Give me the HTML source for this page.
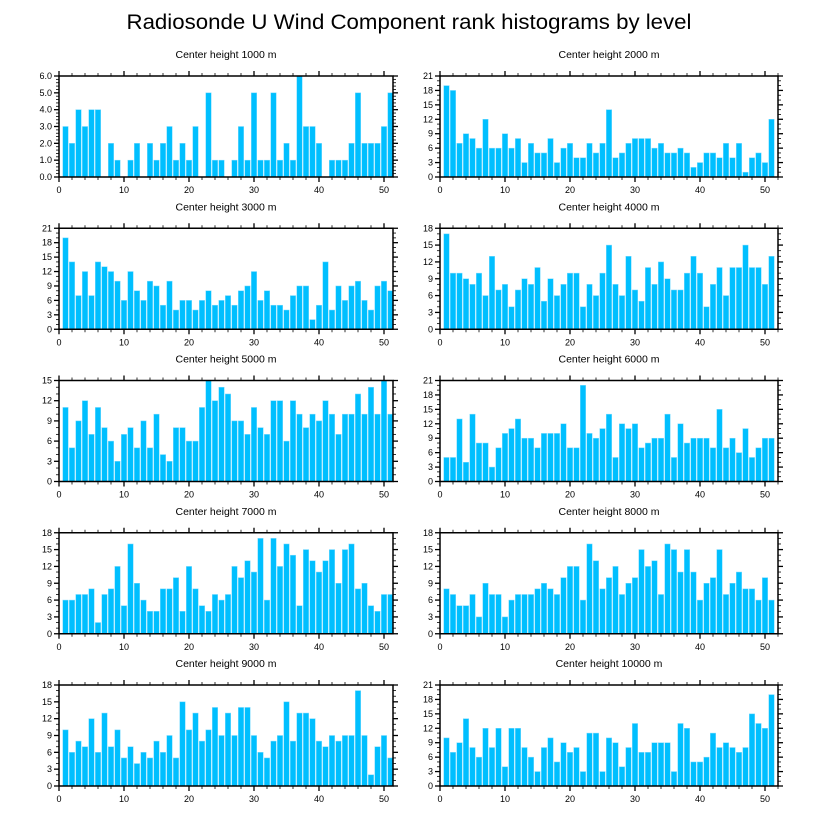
<!DOCTYPE html>
<html>
<head>
<meta charset="utf-8">
<style>
  html,body{margin:0;padding:0;background:#fff;}
  svg{display:block;font-family:"Liberation Sans",sans-serif;}
</style>
</head>
<body>
<svg id="chart" width="818" height="824" viewBox="0 0 818 824" xmlns="http://www.w3.org/2000/svg">
  <text x="409" y="29" text-anchor="middle" font-size="21" textLength="565" lengthAdjust="spacingAndGlyphs" fill="#000">Radiosonde U Wind Component rank histograms by level</text>
</svg>
<script>
const panelTitles = ["Center height 1000 m","Center height 2000 m","Center height 3000 m","Center height 4000 m","Center height 5000 m","Center height 6000 m","Center height 7000 m","Center height 8000 m","Center height 9000 m","Center height 10000 m"];
const yMaxes = [6,21,21,18,15,21,18,18,18,21];
const yMajorSteps = [1,3,3,3,3,3,3,3,3,3];
const xTickLabels = [0,10,20,30,40,50];
const h1000 = [3,2,4,3,4,4,0,2,1,0,1,2,0,2,1,2,3,1,2,1,3,0,5,1,1,0,1,3,1,5,1,1,5,1,2,1,6,3,3,2,0,1,1,1,2,5,2,2,2,3,5];
const h2000 = [19,18,7,9,8,6,12,6,6,9,6,8,3,7,5,5,8,3,6,7,4,4,7,5,7,14,4,5,7,8,8,8,6,7,5,5,6,5,2,3,5,5,4,7,4,7,1,4,5,3,12];
const h3000 = [19,14,7,12,7,14,13,12,10,6,12,8,6,10,9,5,10,4,6,6,4,6,8,5,6,7,5,8,9,12,6,8,5,5,4,7,9,9,2,5,14,4,9,6,9,10,6,4,9,10,8];
const h4000 = [17,10,10,9,8,10,6,13,7,8,4,7,9,8,11,5,9,6,8,10,10,4,8,6,10,15,8,6,13,7,5,11,8,12,9,7,7,10,13,10,4,8,11,6,11,11,15,11,11,8,13];
const h5000 = [11,5,9,12,7,11,8,6,3,7,8,5,9,5,10,4,3,8,8,6,6,11,15,12,14,13,9,9,7,11,8,7,12,12,6,12,10,8,10,9,12,10,7,10,10,13,10,14,10,15,10];
const h6000 = [5,5,13,4,14,8,8,3,7,10,11,13,9,9,7,10,10,10,12,7,7,20,10,9,11,14,5,12,11,12,7,8,9,9,14,5,12,8,9,9,9,7,15,7,9,6,11,5,7,9,9];
const h7000 = [6,6,7,7,8,2,7,8,12,5,16,9,6,4,4,8,8,10,4,12,8,5,4,7,6,7,12,10,13,11,17,6,17,12,16,14,5,15,13,11,13,15,9,15,16,8,9,5,4,7,7];
const h8000 = [8,7,5,5,7,3,9,7,7,3,6,7,7,7,8,9,8,7,10,12,12,6,16,13,8,10,12,7,9,10,15,12,13,7,16,15,11,15,11,6,9,10,15,7,9,11,8,8,6,10,6];
const h9000 = [10,6,8,7,12,6,13,7,10,5,7,4,6,5,8,6,9,5,15,10,13,8,10,14,9,13,9,14,14,9,6,5,8,9,15,8,13,13,12,8,7,9,8,9,9,17,9,2,7,9,5];
const h10000 = [10,7,9,14,8,6,12,8,12,4,12,12,8,6,3,8,10,5,9,7,8,3,11,11,3,10,9,4,8,13,7,7,9,9,9,3,13,12,5,5,6,11,8,9,8,7,8,15,13,12,19];
const allSeries = [h1000,h2000,h3000,h4000,h5000,h6000,h7000,h8000,h9000,h10000];

const NS = "http://www.w3.org/2000/svg";
const svg = document.getElementById("chart");
function mk(tag, attrs, parent){
  const e = document.createElementNS(NS, tag);
  for (const k in attrs) e.setAttribute(k, attrs[k]);
  (parent||svg).appendChild(e);
  return e;
}
const PXU = 6.5;            // pixels per rank unit
const PH = 101;             // panel plot height
allSeries.forEach((vals, p) => {
  const col = p % 2, row = Math.floor(p / 2);
  const left = col === 0 ? 59 : 440;
  const width = col === 0 ? 334 : 338;
  const top = 76 + row * 152.25;
  const bottom = top + PH;
  const yMax = yMaxes[p];
  const xs = v => left + v * PXU;
  const ys = v => bottom - v / yMax * PH;
  const g = mk("g", {});
  
  
  const t = mk("text", {x: left + width / 2, y: top - 18, "text-anchor": "middle", "font-size": "10.5", fill: "#000"}, g);
  t.textContent = panelTitles[p];
  
  
  // bars
  vals.forEach((v, i) => {
    if (v <= 0) return;
    const r = mk("rect", {x: xs(i + 1 - 0.42), y: ys(v), width: 0.84 * PXU, height: ys(0) - ys(v), fill: "#00bfff", stroke: "#7fdcff", "stroke-width": "0.5"}, g);
    
    
  });
  // frame
  const fr = mk("rect", {x: left, y: top, width: width, height: PH, fill: "none", stroke: "#000", "stroke-width": "1.5"}, g);
  
  
  // x ticks (bottom & top, outward)
  for (let v = 0; xs(v) <= left + width + 0.5; v += 2) {
    const major = v % 10 === 0;
    const L = major ? 5 : 3;
    mk("line", {x1: xs(v), x2: xs(v), y1: bottom, y2: bottom + L, stroke: "#000", "stroke-width": major ? 1.3 : 0.8}, g);
    mk("line", {x1: xs(v), x2: xs(v), y1: top, y2: top - L, stroke: "#000", "stroke-width": major ? 1.3 : 0.8}, g);
  }
  xTickLabels.forEach(v => {
    const tl = mk("text", {x: xs(v), y: bottom + 16, "text-anchor": "middle", "font-size": "9", fill: "#000"}, g);
    tl.textContent = v;
    
    
  });
  // y ticks (left & right, outward)
  const step = yMajorSteps[p];
  const minor = p === 0 ? 0.2 : 1;
  const nMin = Math.round(yMax / minor);
  for (let k = 0; k <= nMin; k++) {
    const v = k * minor;
    const isMajor = Math.abs(v / step - Math.round(v / step)) < 1e-6;
    const L = isMajor ? 5 : 3;
    mk("line", {x1: left, x2: left - L, y1: ys(v), y2: ys(v), stroke: "#000", "stroke-width": isMajor ? 1.3 : 0.8}, g);
    mk("line", {x1: left + width, x2: left + width + L, y1: ys(v), y2: ys(v), stroke: "#000", "stroke-width": isMajor ? 1.3 : 0.8}, g);
    if (isMajor) {
      const yl = mk("text", {x: left - 7, y: ys(v) + 3, "text-anchor": "end", "font-size": "9", fill: "#000"}, g);
      yl.textContent = p === 0 ? v.toFixed(1) : Math.round(v);
      
      
    }
  }
});
</script>
</body>
</html>
